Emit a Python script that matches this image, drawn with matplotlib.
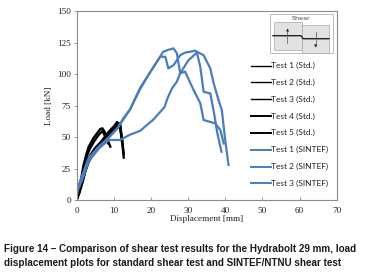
#!/usr/bin/env python3
"""Shear test load-displacement plot, Hydrabolt 29 mm."""
import matplotlib; matplotlib.use("Agg")
import matplotlib.pyplot as plt
from matplotlib.patches import Rectangle

STD_X = [
    [0, 0.6, 1.2, 1.9, 2.6, 3.3, 4.5, 5.5, 6.4, 7, 7.6, 8.2, 9.1],
    [0, 0.7, 1.4, 2.2, 3, 4, 5, 6.5, 8.7, 10.2, 10.9, 11.6, 12.3, 12.7],
    [0, 0.8, 1.6, 2.4, 3.2, 4.5, 6, 7.8, 9.5, 11.2, 11.8, 12.2],
    [0, 0.7, 1.3, 2.1, 2.8, 3.6, 4.8, 6, 7, 7.8, 8.6],
    [0, 0.8, 1.5, 2.3, 3.2, 4.5, 6.5, 8.5, 10.5, 11.5, 12.2, 12.7],
]
STD_Y = [
    [0, 6, 16, 28, 36, 42.5, 49, 53, 56.5, 57, 54, 49, 42.5],
    [0, 7, 15, 25, 32, 37, 41.4, 46, 54.4, 59, 62, 60, 46.4, 33.8],
    [0, 7, 15, 24, 31, 38, 42, 48, 53, 58, 60, 47],
    [0, 8, 16, 27, 35, 41, 47, 52, 55, 50, 45],
    [0, 6, 13, 22, 30, 37, 44, 52, 58, 61, 50, 37],
]
SINTEF_X = [
    [0, 0.3, 1.5, 3.3, 6, 8.7, 11, 12.6, 14.4, 17.1, 19.5, 22.5, 23.3, 25, 26.1, 27, 27.9, 29.2, 31.5, 33.3, 34.2, 37.3, 38.7, 39.6],
    [0, 0.2, 1.2, 3, 5.5, 8.5, 11, 12.6, 14.4, 17.1, 19.5, 22.5, 23.9, 24.7, 26.1, 27.9, 29.2, 31.9, 34.2, 36, 36.9, 38.2, 39.1, 40, 40.9],
    [0, 0.2, 1.5, 3.3, 6, 8.7, 11.7, 14.4, 17.1, 20.7, 23.7, 24.5, 25.7, 27, 27.9, 30.1, 32.4, 33.3, 34.2, 36, 37, 37.9, 39],
]
SINTEF_Y = [
    [0, 10, 19, 33.5, 42.5, 50, 57, 64, 72, 88, 100, 113.8, 117.7, 119.5, 120.4, 116.5, 100.6, 102, 87.4, 76.9, 63.6, 61, 55.7, 45],
    [0, 8, 17, 31, 41, 49, 57, 65, 72, 89, 100, 113.8, 113.7, 104.6, 107, 115, 117, 118.5, 115, 104.5, 92.7, 79.5, 71.5, 47.8, 28],
    [0, 7, 16, 31, 41, 47.8, 47.8, 52, 55, 64, 74, 81, 88.7, 94, 100.6, 111, 117, 105.8, 86, 84.7, 69, 53, 38.5],
]
STD_NAMES = ["Test 1 (Std.)", "Test 2 (Std.)", "Test 3 (Std.)", "Test 4 (Std.)", "Test 5 (Std.)"]
SINTEF_NAMES = ["Test 1 (SINTEF)", "Test 2 (SINTEF)", "Test 3 (SINTEF)"]
X_TICKS = [0, 10, 20, 30, 40, 50, 60, 70]
Y_TICKS = [0, 25, 50, 75, 100, 125, 150]
CAPTION = ["Figure 14 \u2013 Comparison of shear test results for the Hydrabolt 29 mm, load",
           "displacement plots for standard shear test and SINTEF/NTNU shear test"]

W, H = 372, 273
BLUE = "#4a7ebb"
GREY = "#8c8c8c"
SERIF = ["Liberation Serif", "DejaVu Serif"]

fig = plt.figure(figsize=(W/100, H/100), dpi=100, facecolor="white")
ax = fig.add_axes([76.5/W, 1-200.3/H, 260.2/W, 189.3/H])

for xs, ys in zip(STD_X, STD_Y):
    ax.plot(xs, ys, color="black", lw=1.7, solid_joinstyle="round")
for xs, ys in zip(SINTEF_X, SINTEF_Y):
    ax.plot(xs, ys, color=BLUE, lw=1.6, solid_joinstyle="round")

ax.set_xlim(0, 70); ax.set_ylim(0, 150)
ax.set_xticks(X_TICKS); ax.set_yticks(Y_TICKS)
ax.tick_params(axis="x", direction="in", length=2.5, width=0.6, color=GREY, labelsize=6.6, pad=4.5, labelcolor="#222222")
ax.tick_params(axis="y", length=2, width=0.6, color=GREY, labelsize=6.6, pad=2, labelcolor="#222222")
for lab in ax.get_xticklabels() + ax.get_yticklabels():
    lab.set_fontfamily(SERIF)
for s in ax.spines.values():
    s.set_color(GREY); s.set_linewidth(0.8)
ax.set_xlabel("Displacement [mm]", fontsize=6.6, family=SERIF, labelpad=0.5, color="#222222")
ax.set_ylabel("Load [kN]", fontsize=6.6, family=SERIF, labelpad=3, color="#222222")

# legend entries placed by hand to line up with the source
def px(x, y):
    return x/W, 1-y/H

for i, name in enumerate(STD_NAMES + SINTEF_NAMES):
    y = 65.5 + i*16.85
    col = "black" if i < 5 else BLUE
    fig.add_artist(plt.Line2D(*zip(px(250.7, y), px(271, y)), color=col, lw=1.0 if i < 3 else 1.4))
    fig.text(*px(271, y), name, fontsize=6, va="center", ha="left", family=["Lato", "DejaVu Sans"], color="#222222")

# shear inset
def box(x, y, w, h, **kw):
    fx, fy = px(x, y+h)
    fig.add_artist(Rectangle((fx, fy), w/W, h/H, transform=fig.transFigure, **kw))

box(270, 14, 63.3, 39, fc="white", ec="#b0b0b0", lw=0.6)
box(274, 22.3, 27.7, 27.7, fc="#e2e2e2", ec="#a8a8a8", lw=0.5)
box(302.3, 25, 27, 27.7, fc="#e2e2e2", ec="#a8a8a8", lw=0.5)
fig.text(*px(301, 18.5), "Shear", fontsize=4.6, ha="center", va="center", color="#444444")
lx, ly = zip(px(273, 35.7), px(301, 35.7), px(303, 38.7), px(329, 38.7))
fig.add_artist(plt.Line2D(lx, ly, color="#222222", lw=1.0))
for xa, ya, yb in [(287.3, 43, 30), (316, 32, 46)]:
    fig.add_artist(plt.Line2D(*zip(px(xa, ya), px(xa, yb)), color="#555555", lw=0.5))
    fig.text(*px(xa, yb), "\u25b2" if yb < ya else "\u25bc", fontsize=3, ha="center", va="center", color="#222222")

for y, line in zip([249, 263], CAPTION):
    fig.text(*px(4, y), line, fontsize=7.15, fontweight="bold", family=["Liberation Sans", "DejaVu Sans"],
             va="center", ha="left", color="#1a1a1a")

fig.savefig("out.png", dpi=100, facecolor="white")
